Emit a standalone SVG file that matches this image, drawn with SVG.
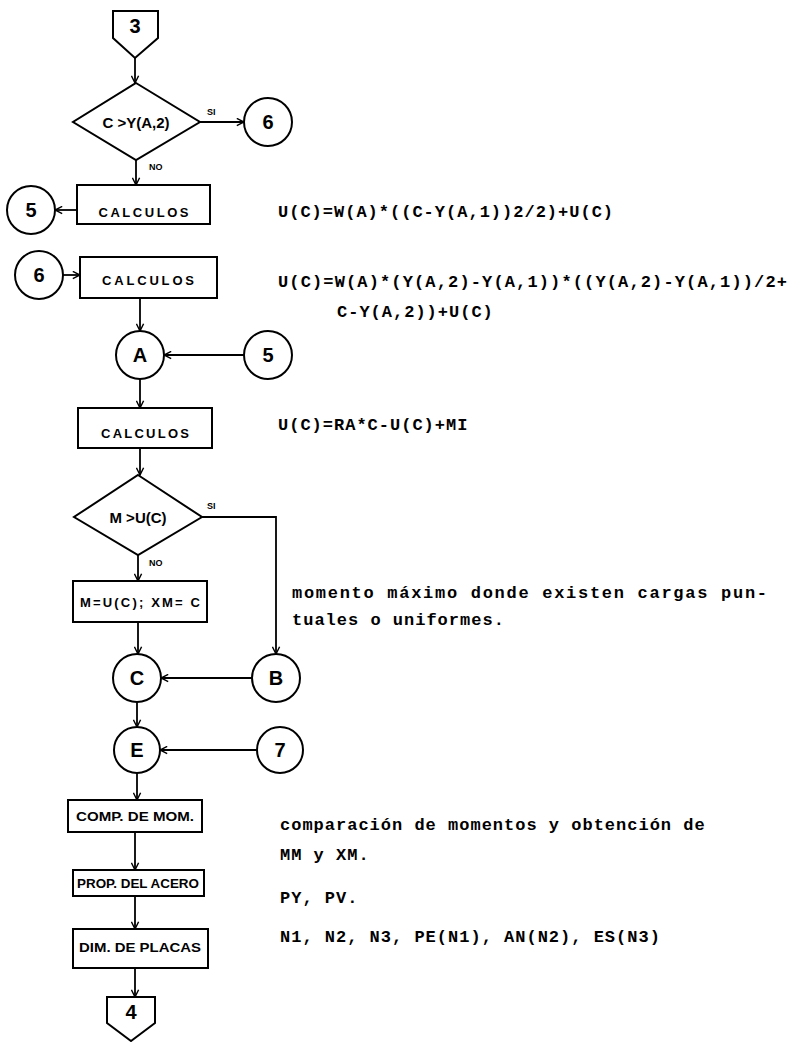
<svg xmlns="http://www.w3.org/2000/svg" width="792" height="1042" viewBox="0 0 792 1042">
<style>
.w{fill:#fff;stroke:#000;stroke-width:2}
.c{stroke:#000;stroke-width:1.8;fill:none;marker-end:url(#ah)}
.lb{font-family:"Liberation Sans",Arial,sans-serif;font-weight:bold;font-size:13px;text-anchor:middle;fill:#000}
.dm{font-size:15px}
.st{font-size:12px}
.dg{font-family:"Liberation Sans",Arial,sans-serif;font-weight:bold;font-size:20px;text-anchor:middle;fill:#000}
.sm{font-family:"Liberation Sans",Arial,sans-serif;font-weight:bold;font-size:9px;fill:#000}
.tx{font-family:"Liberation Mono","Courier New",monospace;font-weight:bold;font-size:17px;letter-spacing:1px;fill:#000}
</style>
<defs>
<marker id="ah" viewBox="0 0 10 10" refX="9" refY="5" markerWidth="9" markerHeight="9" markerUnits="userSpaceOnUse" orient="auto">
<path d="M1,1 L9,5 L1,9" fill="none" stroke="#000" stroke-width="1.6"/>
</marker>
</defs>
<g id="connectors">
<line class="c" x1="135" y1="58" x2="135" y2="83"/>
<line class="c" x1="200" y1="122" x2="244" y2="122"/>
<line class="c" x1="136" y1="160" x2="136" y2="185"/>
<line class="c" x1="77" y1="210" x2="55" y2="210"/>
<line class="c" x1="63" y1="275" x2="80" y2="275"/>
<line class="c" x1="140" y1="298" x2="140" y2="331"/>
<line class="c" x1="244" y1="355" x2="164" y2="355"/>
<line class="c" x1="140" y1="379" x2="140" y2="408"/>
<line class="c" x1="140" y1="448" x2="140" y2="475"/>
<polyline class="c" points="202,517 276,517 276,654"/>
<line class="c" x1="138" y1="555" x2="138" y2="581"/>
<line class="c" x1="138" y1="622" x2="138" y2="654"/>
<line class="c" x1="252" y1="678" x2="161" y2="678"/>
<line class="c" x1="137" y1="702" x2="137" y2="727"/>
<line class="c" x1="257" y1="750" x2="160" y2="750"/>
<line class="c" x1="137" y1="773" x2="137" y2="800"/>
<line class="c" x1="135" y1="832" x2="135" y2="870"/>
<line class="c" x1="135" y1="896" x2="135" y2="929"/>
<line class="c" x1="135" y1="968" x2="135" y2="997"/>
<text class="sm" x="207" y="115">SI</text>
<text class="sm" x="149" y="170">NO</text>
<text class="sm" x="207" y="509">SI</text>
<text class="sm" x="149" y="566">NO</text>
</g>
<g id="n3"><polygon class="w" points="113,11 158,11 158,38 135,58 113,38"/><text class="dg" x="135" y="33">3</text></g>
<g id="d1"><polygon class="w" points="136,83 200,122 136,160 73,122"/><text class="lb dm" x="136" y="128">C &gt;Y(A,2)</text></g>
<g id="c6a"><circle class="w" cx="268" cy="122" r="24"/><text class="dg" x="268" y="129">6</text></g>
<g id="r1"><rect class="w" x="77" y="185" width="133" height="39"/><text class="lb" x="143.5" y="217" textLength="90" lengthAdjust="spacing">CALCULOS</text></g>
<g id="c5a"><circle class="w" cx="31" cy="210" r="24"/><text class="dg" x="31" y="217">5</text></g>
<g id="c6b"><circle class="w" cx="39" cy="275" r="24"/><text class="dg" x="39" y="282">6</text></g>
<g id="r2"><rect class="w" x="80" y="257" width="137" height="41"/><text class="lb" x="148" y="285" textLength="92" lengthAdjust="spacing">CALCULOS</text></g>
<g id="cA"><circle class="w" cx="140" cy="355" r="24"/><text class="dg" x="140" y="362">A</text></g>
<g id="c5b"><circle class="w" cx="268" cy="355" r="24"/><text class="dg" x="268" y="362">5</text></g>
<g id="r3"><rect class="w" x="78" y="408" width="134" height="40"/><text class="lb" x="145" y="438" textLength="88" lengthAdjust="spacing">CALCULOS</text></g>
<g id="d2"><polygon class="w" points="138,475 202,517 138,555 74,517"/><text class="lb dm" x="138" y="523">M &gt;U(C)</text></g>
<g id="r4"><rect class="w" x="73" y="581" width="134" height="41"/><text class="lb" x="140" y="607" textLength="120" lengthAdjust="spacing">M=U(C); XM= C</text></g>
<g id="cC"><circle class="w" cx="137" cy="678" r="24"/><text class="dg" x="137" y="685">C</text></g>
<g id="cB"><circle class="w" cx="276" cy="678" r="24"/><text class="dg" x="276" y="685">B</text></g>
<g id="cE"><circle class="w" cx="137" cy="750" r="23"/><text class="dg" x="137" y="757">E</text></g>
<g id="c7"><circle class="w" cx="280" cy="750" r="23"/><text class="dg" x="280" y="757">7</text></g>
<g id="r5"><rect class="w" x="68" y="800" width="134" height="32"/><text class="lb st" x="135" y="821" textLength="118" lengthAdjust="spacingAndGlyphs">COMP. DE MOM.</text></g>
<g id="r6"><rect class="w" x="73" y="870" width="131" height="26"/><text class="lb st" x="138" y="888" textLength="122" lengthAdjust="spacingAndGlyphs">PROP. DEL ACERO</text></g>
<g id="r7"><rect class="w" x="73" y="929" width="135" height="39"/><text class="lb st" x="140" y="952" textLength="122" lengthAdjust="spacingAndGlyphs">DIM. DE PLACAS</text></g>
<g id="n4"><polygon class="w" points="107,997 155,997 155,1023 131,1041 107,1023"/><text class="dg" x="131" y="1019">4</text></g>
<g id="notes">
<text class="tx" x="278" y="217">U(C)=W(A)*((C-Y(A,1))2/2)+U(C)</text>
<text class="tx" x="278" y="287" textLength="510" lengthAdjust="spacing">U(C)=W(A)*(Y(A,2)-Y(A,1))*((Y(A,2)-Y(A,1))/2+</text>
<text class="tx" x="337" y="317">C-Y(A,2))+U(C)</text>
<text class="tx" x="278" y="430">U(C)=RA*C-U(C)+MI</text>
<text class="tx" x="292" y="598" textLength="476" lengthAdjust="spacing">momento máximo donde existen cargas pun-</text>
<text class="tx" x="292" y="625">tuales o uniformes.</text>
<text class="tx" x="280" y="830">comparación de momentos y obtención de</text>
<text class="tx" x="280" y="860">MM y XM.</text>
<text class="tx" x="280" y="903">PY, PV.</text>
<text class="tx" x="280" y="942">N1, N2, N3, PE(N1), AN(N2), ES(N3)</text>
</g>
</svg>
